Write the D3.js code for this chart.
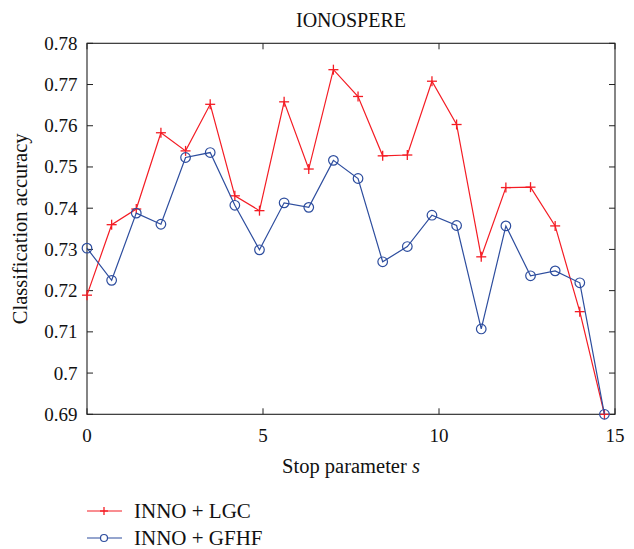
<!DOCTYPE html>
<html><head><meta charset="utf-8">
<script src="https://cdn.jsdelivr.net/npm/d3@7"></script>
<style>body{margin:0;background:#fff}svg{display:block}text{font-family:"Liberation Serif","Times New Roman",serif;fill:#111}</style>
</head><body><svg id="c" width="634" height="549"></svg>
<script>
const xValues = [0,0.7,1.4,2.1,2.8,3.5,4.2,4.9,5.6,6.3,7.0,7.7,8.4,9.1,9.8,10.5,11.2,11.9,12.6,13.3,14.0,14.7];
const lgcValues = [0.7189,0.7360,0.7398,0.7583,0.7539,0.7652,0.7430,0.7394,0.7658,0.7495,0.7736,0.7671,0.7527,0.7529,0.7708,0.7603,0.7282,0.7450,0.7451,0.7357,0.7149,0.6900];
const gfhfValues = [0.7303,0.7225,0.7388,0.7361,0.7523,0.7535,0.7407,0.7299,0.7413,0.7402,0.7516,0.7472,0.7270,0.7307,0.7383,0.7358,0.7107,0.7357,0.7236,0.7248,0.7219,0.6900];
const xTicks = [0,5,10,15];
const yTicks = [0.69,0.70,0.71,0.72,0.73,0.74,0.75,0.76,0.77,0.78];
const yTickLabels = ["0.69","0.7","0.71","0.72","0.73","0.74","0.75","0.76","0.77","0.78"];
const seriesNames = ["INNO + LGC","INNO + GFHF"];
const title = "IONOSPERE";

const svg = d3.select("#c");
const L=87, R=615, T=43.3, B=414.3;
const x = d3.scaleLinear().domain([0,15]).range([L,R]);
const y = d3.scaleLinear().domain([0.69,0.78]).range([B,T]);
const red="#f41c24", blue="#2d4d9e";

// ticks (inward)
const tl=6;
const g = svg.append("g").attr("stroke","#222").attr("stroke-width",1);
xTicks.forEach(t=>{
  g.append("line").attr("x1",x(t)).attr("x2",x(t)).attr("y1",B).attr("y2",B-tl);
  g.append("line").attr("x1",x(t)).attr("x2",x(t)).attr("y1",T).attr("y2",T+tl);
});
yTicks.forEach(t=>{
  g.append("line").attr("x1",L).attr("x2",L+tl).attr("y1",y(t)).attr("y2",y(t));
  g.append("line").attr("x1",R).attr("x2",R-tl).attr("y1",y(t)).attr("y2",y(t));
});
svg.append("rect").attr("x",L).attr("y",T).attr("width",R-L).attr("height",B-T)
  .attr("fill","none").attr("stroke","#222").attr("stroke-width",1.1);

// tick labels
svg.append("g").selectAll("text").data(xTicks).join("text")
  .attr("x",d=>x(d)).attr("y",442).attr("text-anchor","middle").attr("font-size",19).text(d=>d);
svg.append("g").selectAll("text").data(yTicks).join("text")
  .attr("x",77.5).attr("y",d=>y(d)).attr("dy","0.34em").attr("text-anchor","end").attr("font-size",19)
  .text((d,i)=>yTickLabels[i]);

// labels
svg.append("text").attr("x",(L+R)/2).attr("y",26.7).attr("text-anchor","middle").attr("font-size",20).text(title);
const xl = svg.append("text").attr("x",(L+R)/2).attr("y",473.3).attr("text-anchor","middle").attr("font-size",20.5);
xl.append("tspan").text("Stop parameter ");
xl.append("tspan").attr("font-style","italic").text("s");
svg.append("text").attr("transform",`translate(27,${(T+B)/2}) rotate(-90)`).attr("text-anchor","middle")
  .attr("font-size",20.5).text("Classification accuracy");

const line = d3.line().x((d,i)=>x(xValues[i])).y(d=>y(d));
function plus(sel,cx,cy,s,col){
  sel.append("line").attr("x1",cx-s).attr("x2",cx+s).attr("y1",cy).attr("y2",cy).attr("stroke",col).attr("stroke-width",1.3);
  sel.append("line").attr("x1",cx).attr("x2",cx).attr("y1",cy-s).attr("y2",cy+s).attr("stroke",col).attr("stroke-width",1.3);
}
// LGC
svg.append("path").attr("d",line(lgcValues)).attr("fill","none").attr("stroke",red).attr("stroke-width",1.2);
const pg = svg.append("g");
lgcValues.forEach((v,i)=>plus(pg,x(xValues[i]),y(v),5,red));
// GFHF
svg.append("path").attr("d",line(gfhfValues)).attr("fill","none").attr("stroke",blue).attr("stroke-width",1.2);
svg.append("g").selectAll("circle").data(gfhfValues).join("circle")
  .attr("cx",(d,i)=>x(xValues[i])).attr("cy",d=>y(d)).attr("r",4.8)
  .attr("fill","none").attr("stroke",blue).attr("stroke-width",1.2);

// legend
const leg = svg.append("g");
const rows=[511,538];
leg.append("line").attr("x1",87).attr("x2",122).attr("y1",rows[0]).attr("y2",rows[0]).attr("stroke",red).attr("stroke-width",1.2);
plus(leg,104,rows[0],4,red);
leg.append("line").attr("x1",87).attr("x2",122).attr("y1",rows[1]).attr("y2",rows[1]).attr("stroke",blue).attr("stroke-width",1.2);
leg.append("circle").attr("cx",104).attr("cy",rows[1]).attr("r",3.5).attr("fill","#fff").attr("stroke",blue).attr("stroke-width",1.2);
rows.forEach((r,i)=>leg.append("text").attr("x",134).attr("y",r+6.5).attr("font-size",21).text(seriesNames[i]));
</script></body></html>
